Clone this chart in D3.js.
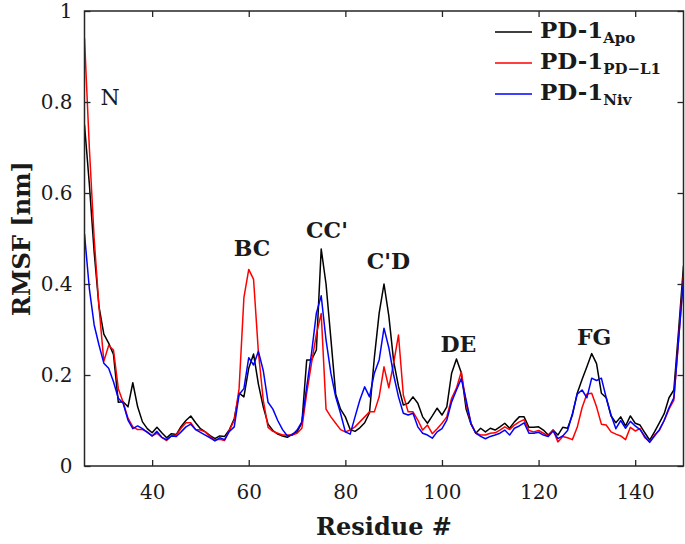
<!DOCTYPE html>
<html>
<head>
<meta charset="utf-8">
<script src="https://cdn.jsdelivr.net/npm/d3@7/dist/d3.min.js"></script>
<style>
  html, body { margin: 0; padding: 0; background: #fff; }
  svg { display: block; }
  text { font-family: "DejaVu Serif", serif; fill: #1a1a1a; }
</style>
</head>
<body>
<svg id="chart" width="685" height="544"></svg>
<script>
// ---- data ----
const residueStart = 26;
const residueEnd = 150;

const apo = [
  0.75, 0.62, 0.47, 0.35, 0.29, 0.27, 0.245, 0.14, 0.141, 0.13,
  0.183, 0.13, 0.097, 0.082, 0.073, 0.085, 0.073, 0.062, 0.071, 0.069,
  0.087, 0.1, 0.11, 0.095, 0.082, 0.075, 0.067, 0.06, 0.066, 0.065,
  0.08, 0.104, 0.16, 0.152, 0.215, 0.246, 0.18, 0.13, 0.092, 0.078,
  0.07, 0.066, 0.063, 0.07, 0.075, 0.095, 0.233, 0.233, 0.255, 0.477,
  0.4, 0.28, 0.158, 0.125, 0.108, 0.08, 0.076, 0.084, 0.095, 0.117,
  0.238, 0.336, 0.4, 0.33, 0.23, 0.175, 0.134, 0.138, 0.152, 0.138,
  0.108, 0.094, 0.11, 0.127, 0.112, 0.13, 0.204, 0.235, 0.205, 0.125,
  0.092, 0.072, 0.083, 0.075, 0.083, 0.079, 0.086, 0.094, 0.083, 0.097,
  0.108, 0.108, 0.085, 0.085, 0.086, 0.079, 0.068, 0.079, 0.068, 0.085,
  0.083, 0.112, 0.16, 0.19, 0.218, 0.247, 0.225, 0.16, 0.15, 0.11,
  0.095, 0.108, 0.088, 0.11, 0.094, 0.09, 0.073, 0.057, 0.075, 0.095,
  0.115, 0.15, 0.167, 0.3, 0.44
];

const pdl1 = [
  0.94, 0.70, 0.50, 0.35, 0.23, 0.265, 0.255, 0.17, 0.14, 0.105,
  0.086, 0.08, 0.08, 0.075, 0.066, 0.072, 0.063, 0.056, 0.066, 0.068,
  0.083, 0.095, 0.095, 0.08, 0.079, 0.075, 0.064, 0.057, 0.059, 0.056,
  0.079, 0.1, 0.17, 0.37, 0.432, 0.41, 0.25, 0.145, 0.085, 0.076,
  0.072, 0.068, 0.068, 0.068, 0.072, 0.083, 0.16, 0.226, 0.29, 0.335,
  0.125, 0.108, 0.094, 0.08, 0.075, 0.079, 0.086, 0.097, 0.108, 0.119,
  0.119, 0.152, 0.218, 0.172, 0.226, 0.288, 0.156, 0.119, 0.119, 0.101,
  0.079, 0.09, 0.071, 0.082, 0.094, 0.108, 0.149, 0.171, 0.207, 0.138,
  0.094, 0.072, 0.068, 0.068, 0.072, 0.073, 0.079, 0.086, 0.08, 0.09,
  0.097, 0.102, 0.078, 0.075, 0.078, 0.072, 0.066, 0.079, 0.053, 0.065,
  0.062, 0.058, 0.085, 0.128, 0.158, 0.16, 0.13, 0.092, 0.09, 0.075,
  0.07, 0.066, 0.058, 0.085, 0.077, 0.082, 0.062, 0.053, 0.068, 0.078,
  0.1, 0.125, 0.145, 0.28, 0.42
];

const niv = [
  0.51, 0.39, 0.31, 0.266, 0.226, 0.215, 0.185, 0.149, 0.138, 0.101,
  0.082, 0.088, 0.082, 0.074, 0.066, 0.076, 0.063, 0.058, 0.066, 0.065,
  0.075, 0.086, 0.092, 0.08, 0.074, 0.068, 0.062, 0.055, 0.062, 0.058,
  0.076, 0.086, 0.157, 0.17, 0.238, 0.222, 0.252, 0.21, 0.14, 0.125,
  0.1, 0.08, 0.066, 0.068, 0.079, 0.097, 0.174, 0.248, 0.336, 0.374,
  0.277, 0.204, 0.152, 0.116, 0.075, 0.07, 0.108, 0.145, 0.174, 0.152,
  0.204, 0.233, 0.303, 0.26, 0.2, 0.152, 0.116, 0.112, 0.116, 0.086,
  0.072, 0.068, 0.061, 0.075, 0.082, 0.101, 0.141, 0.167, 0.192, 0.145,
  0.094, 0.072, 0.065, 0.06, 0.065, 0.068, 0.072, 0.079, 0.068, 0.083,
  0.088, 0.095, 0.072, 0.072, 0.074, 0.068, 0.065, 0.077, 0.06, 0.066,
  0.078, 0.115, 0.158, 0.167, 0.15, 0.193, 0.188, 0.193, 0.15, 0.112,
  0.082, 0.1, 0.083, 0.098, 0.088, 0.08, 0.065, 0.052, 0.066, 0.08,
  0.1, 0.128, 0.15, 0.28, 0.41
];

const seriesNames = ["Apo", "PD\u2212L1", "Niv"];
const seriesColors = ["#000000", "#ff0000", "#0000ff"];
const xTicks = [40, 60, 80, 100, 120, 140];
const yTicks = [0, 0.2, 0.4, 0.6, 0.8, 1];
const yTickLabels = ["0", "0.2", "0.4", "0.6", "0.8", "1"];

const loopLabels = ["N", "BC", "CC'", "C'D", "DE", "FG"];
const loopResidue = [31.3, 60.7, 76.2, 88.9, 103.4, 131.5];
const loopRmsf = [0.793, 0.462, 0.501, 0.433, 0.25, 0.266];

// ---- layout ----
const svg = d3.select("#chart");
const L = 84.5, R = 683.5, T = 11, B = 466;

const x = d3.scaleLinear().domain([residueStart, residueEnd]).range([L, R]);
const y = d3.scaleLinear().domain([0, 1]).range([B, T]);

const residues = d3.range(residueStart, residueEnd + 1);
const allSeries = [apo, pdl1, niv];

// clip
svg.append("defs").append("clipPath").attr("id", "clip")
  .append("rect").attr("x", L).attr("y", T).attr("width", R - L).attr("height", B - T);

const line = d3.line().x((d, i) => x(residues[i])).y(d => y(d));

const gLines = svg.append("g").attr("clip-path", "url(#clip)");
allSeries.forEach((s, k) => {
  gLines.append("path")
    .datum(s)
    .attr("d", line)
    .attr("fill", "none")
    .attr("stroke", seriesColors[k])
    .attr("stroke-width", 1.5)
    .attr("stroke-linejoin", "round");
});

// axes
const tickLen = 6;
const axB = d3.axisBottom(x).tickValues(xTicks).tickSize(-tickLen).tickPadding(19).tickFormat(d3.format("d"));
const axT = d3.axisTop(x).tickValues(xTicks).tickSize(-tickLen).tickFormat("");
const axL = d3.axisLeft(y).tickValues(yTicks).tickSize(-tickLen).tickPadding(12).tickFormat((d, i) => yTickLabels[i]);
const axR = d3.axisRight(y).tickValues(yTicks).tickSize(-tickLen).tickFormat("");

function styleAxis(g) {
  g.select(".domain").remove();
  g.selectAll(".tick line").attr("stroke", "#262626").attr("stroke-width", 1.3);
  g.selectAll(".tick text").attr("font-family", "DejaVu Serif").attr("font-size", 20).attr("fill", "#1a1a1a");
}
svg.append("g").attr("transform", `translate(0,${B})`).call(axB).call(styleAxis);
svg.append("g").attr("transform", `translate(0,${T})`).call(axT).call(styleAxis);
svg.append("g").attr("transform", `translate(${L},0)`).call(axL).call(styleAxis);
svg.append("g").attr("transform", `translate(${R},0)`).call(axR).call(styleAxis);

svg.append("rect")
  .attr("x", L).attr("y", T).attr("width", R - L).attr("height", B - T)
  .attr("fill", "none").attr("stroke", "#262626").attr("stroke-width", 1.5);

// axis titles
svg.append("text")
  .attr("x", (L + R) / 2).attr("y", 535)
  .attr("text-anchor", "middle")
  .attr("font-size", 24).attr("font-weight", "bold")
  .text("Residue #");

svg.append("text")
  .attr("transform", `translate(30,${(T + B) / 2}) rotate(-90)`)
  .attr("text-anchor", "middle")
  .attr("font-size", 24).attr("font-weight", "bold")
  .text("RMSF [nm]");

// loop labels
loopLabels.forEach((t, i) => {
  svg.append("text")
    .attr("x", x(loopResidue[i])).attr("y", y(loopRmsf[i]))
    .attr("text-anchor", "middle")
    .attr("font-size", 22)
    .attr("font-weight", t === "N" ? "normal" : "bold")
    .text(t);
});

// legend
const legX1 = 495, legX2 = 532, legTextX = 540;
const legRowY = [38, 69, 100];
seriesNames.forEach((nm, k) => {
  svg.append("line")
    .attr("x1", legX1).attr("x2", legX2)
    .attr("y1", legRowY[k] - 6).attr("y2", legRowY[k] - 6)
    .attr("stroke", seriesColors[k]).attr("stroke-width", 1.5);
  const t = svg.append("text")
    .attr("x", legTextX).attr("y", legRowY[k])
    .attr("font-size", 23).attr("font-weight", "bold");
  t.append("tspan").text("PD-1");
  t.append("tspan").attr("font-size", 15).attr("dy", 5).text(nm);
});
</script>
</body>
</html>
